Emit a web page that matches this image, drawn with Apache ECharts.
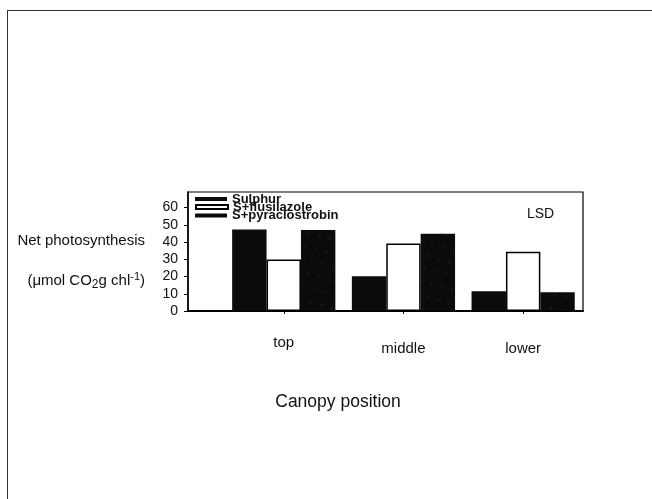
<!DOCTYPE html>
<html><head><meta charset="utf-8">
<script src="https://cdn.jsdelivr.net/npm/echarts@6/dist/echarts.min.js"></script>
<style>
html,body{margin:0;padding:0;background:#fff;overflow:hidden;width:652px;height:499px;}
#chart{position:absolute;left:0;top:0;width:652px;height:499px;}
#frame{position:absolute;left:7px;top:10px;width:700px;height:560px;border-top:1.5px solid #333;border-left:1.5px solid #333;pointer-events:none;}
</style></head><body>
<div id="chart"></div><div id="frame"></div>
<script>
const categories = ['top', 'middle', 'lower'];
const seriesNames = ['Sulphur', 'S+flusilazole', 'S+pyraclostrobin'];
const sulphur = [47.3, 20.2, 11.4];
const flusilazole = [29.8, 39.2, 34.3];
const pyraclostrobin = [46.9, 44.8, 10.8];
const yTicks = [0, 10, 20, 30, 40, 50, 60];

const FONT = 'Liberation Sans, Arial, Helvetica, sans-serif';
const xPos = categories.map((c, i) => i + 1);
const pairs = vals => vals.map((v, i) => [xPos[i], v]);

const chart = echarts.init(document.getElementById('chart'), null, {renderer: 'canvas'});
const legendTops = [192.5, 200.5, 209];
const option = {
  backgroundColor: '#fff',
  animation: false,
  textStyle: {fontFamily: FONT, color: '#111'},
  title: {
    text: 'LSD', left: 527, top: 207, padding: 0,
    textStyle: {fontSize: 14, fontWeight: 'normal', color: '#111', fontFamily: FONT}
  },
  legend: seriesNames.map((n, i) => ({
    data: [n], left: 195, top: legendTops[i], orient: 'vertical',
    itemWidth: 32, itemHeight: 4, padding: 0, itemGap: 0, icon: 'rect',
    selectedMode: false,
    textStyle: {fontSize: 13, fontWeight: 'bold', lineHeight: 12, color: '#111', fontFamily: FONT, padding: [0,0,0,0]}
  })),
  grid: {left: 188, top: 192, width: 395, height: 119, show: true, borderColor: '#000', borderWidth: 1.2, backgroundColor: 'transparent'},
  xAxis: {
    type: 'value', min: 0.2, max: 3.5,
    axisLine: {show: true, lineStyle: {color: '#000', width: 2}},
    axisTick: {show: true, customValues: xPos, length: 3, lineStyle: {color: '#000'}},
    splitLine: {show: false},
    axisLabel: {
      customValues: xPos, margin: 24, color: '#111', fontSize: 15, fontFamily: FONT,
      formatter: v => {
        const i = xPos.indexOf(v);
        if (i < 0) return '';
        return (i === 0 ? '{a|' : '{b|') + categories[i] + '}';
      },
      rich: {
        a: {fontSize: 15, fontFamily: FONT, color: '#111'},
        b: {fontSize: 15, fontFamily: FONT, color: '#111', padding: [6, 0, 0, 0]}
      }
    },
    name: 'Canopy position', nameLocation: 'middle', nameGap: 82,
    nameTextStyle: {fontSize: 17.5, color: '#111', fontFamily: FONT, padding: [0, 95, 0, 0]}
  },
  yAxis: {
    type: 'value', min: 0, max: 69,
    axisLine: {show: true, lineStyle: {color: '#000', width: 1.5}},
    axisTick: {show: true, customValues: yTicks, length: 4, lineStyle: {color: '#000'}},
    splitLine: {show: false},
    axisLabel: {customValues: yTicks, margin: 10, fontSize: 14, color: '#111', fontFamily: FONT},
    name: 'Net photosynthesis\n(\u03bcmol CO{sub|2}g chl{sup|-1})',
    nameLocation: 'middle', nameRotate: 0, nameGap: 43,
    nameTextStyle: {
      fontSize: 15, color: '#111', fontFamily: FONT, align: 'right', lineHeight: 40, padding: [19, 0, 0, 0],
      rich: {
        sub: {fontSize: 12, fontFamily: FONT, color: '#111', padding: [7, 0, 0, 0]},
        sup: {fontSize: 11, fontFamily: FONT, color: '#111', padding: [0, 0, 8, 0]}
      }
    }
  },
  series: [
    {name: seriesNames[0], type: 'bar', data: pairs(sulphur), barWidth: 34.4, barGap: '0%',
     itemStyle: {color: '#0b0b0b'}},
    {name: seriesNames[1], type: 'bar', data: pairs(flusilazole), barWidth: 34.4, barGap: '0%',
     itemStyle: {color: '#ffffff', borderColor: '#000', borderWidth: 1.5}},
    {name: seriesNames[2], type: 'bar', data: pairs(pyraclostrobin), barWidth: 34.4, barGap: '0%',
     itemStyle: {color: '#0b0b0b', decal: {symbol: 'circle', symbolSize: 0.5, color: 'rgba(150,150,150,0.6)', dashArrayX: [2, 9], dashArrayY: [2, 11], rotation: 0.3}}}
  ]
};
chart.setOption(option);
</script>
</body></html>
